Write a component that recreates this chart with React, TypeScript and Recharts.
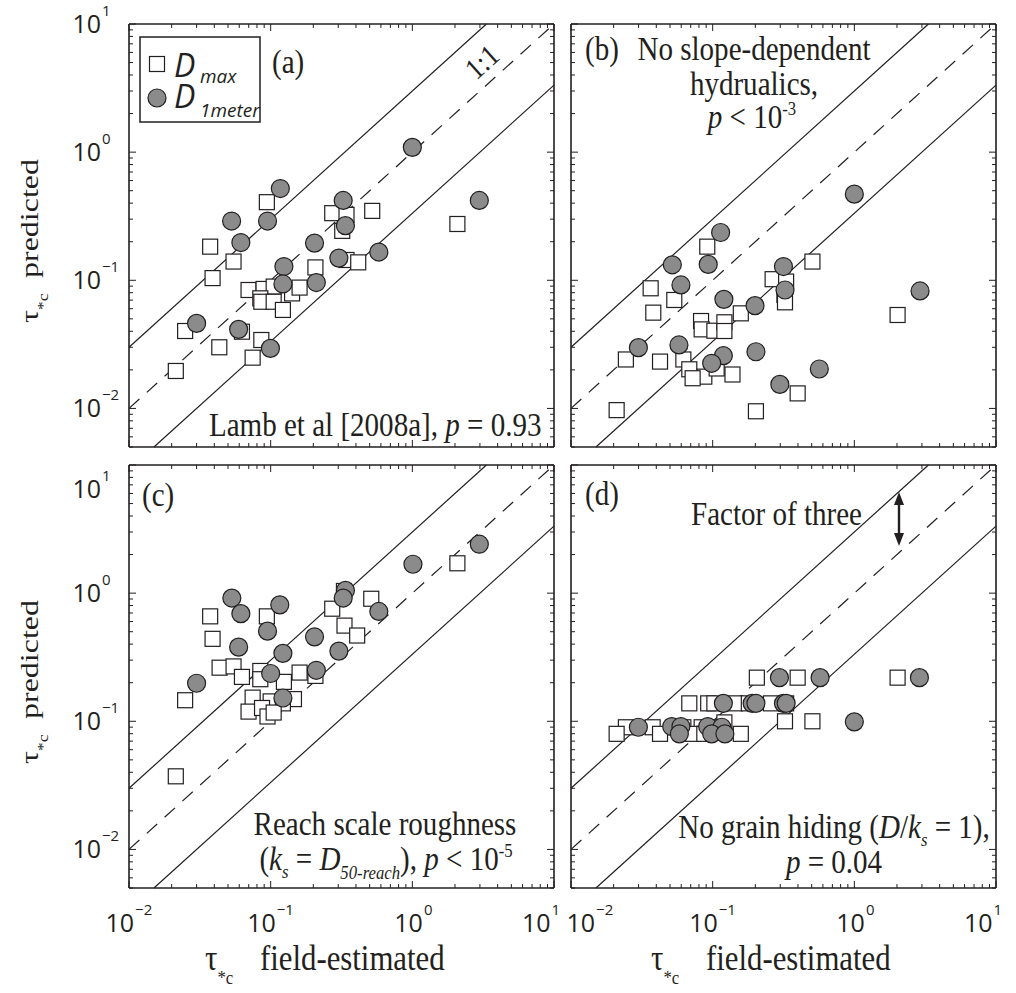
import React from "react";
import { ScatterChart, Scatter, XAxis, YAxis, ReferenceLine } from "recharts";

// axis ranges (log-log) and the "factor of three" envelope
const X_MIN = 0.01;
const X_MAX = 10;
const Y_MIN = 0.005;
const Y_MAX = 10;
const FACTOR = 3;

const majorTicks = [0.01, 0.1, 1, 10];
const tickExponents = ["\u22122", "\u22121", "0", "1"];
const minorMantissas = [2, 3, 4, 5, 6, 7, 8, 9];
const yLowMinor = [0.005, 0.006, 0.007, 0.008, 0.009];

// (a) Lamb et al [2008a]
const dmaxA = [
  { x: 2.08, y: 0.275 }, { x: 0.521, y: 0.348 }, { x: 0.094, y: 0.407 }, { x: 0.272, y: 0.334 },
  { x: 0.343, y: 0.324 }, { x: 0.32, y: 0.243 }, { x: 0.0374, y: 0.183 }, { x: 0.0547, y: 0.14 },
  { x: 0.0389, y: 0.104 }, { x: 0.207, y: 0.126 }, { x: 0.343, y: 0.144 }, { x: 0.415, y: 0.138 },
  { x: 0.0698, y: 0.084 }, { x: 0.0891, y: 0.0856 }, { x: 0.105, y: 0.0893 }, { x: 0.0845, y: 0.0723 },
  { x: 0.0859, y: 0.068 }, { x: 0.105, y: 0.068 }, { x: 0.1416, y: 0.079 }, { x: 0.16, y: 0.0877 },
  { x: 0.122, y: 0.0587 }, { x: 0.0249, y: 0.0402 }, { x: 0.0627, y: 0.0397 }, { x: 0.0434, y: 0.03 },
  { x: 0.0859, y: 0.0342 }, { x: 0.0746, y: 0.0249 }, { x: 0.0214, y: 0.0196 },
];
const d1mA = [
  { x: 1.0, y: 1.09 }, { x: 2.97, y: 0.42 }, { x: 0.117, y: 0.52 }, { x: 0.053, y: 0.29 },
  { x: 0.095, y: 0.29 }, { x: 0.0616, y: 0.197 }, { x: 0.325, y: 0.42 }, { x: 0.337, y: 0.267 },
  { x: 0.204, y: 0.195 }, { x: 0.58, y: 0.166 }, { x: 0.303, y: 0.149 }, { x: 0.124, y: 0.128 },
  { x: 0.122, y: 0.0936 }, { x: 0.21, y: 0.096 }, { x: 0.03, y: 0.0461 }, { x: 0.0594, y: 0.0414 },
  { x: 0.0996, y: 0.0294 },
];

// (b) no slope-dependent hydraulics
const dmaxB = [
  { x: 2.02, y: 0.0536 }, { x: 0.506, y: 0.14 }, { x: 0.0916, y: 0.183 }, { x: 0.265, y: 0.102 },
  { x: 0.33, y: 0.0977 }, { x: 0.321, y: 0.0768 }, { x: 0.324, y: 0.0673 }, { x: 0.0365, y: 0.0866 },
  { x: 0.0536, y: 0.0702 }, { x: 0.0381, y: 0.0559 }, { x: 0.158, y: 0.0552 }, { x: 0.0828, y: 0.0481 },
  { x: 0.0836, y: 0.0414 }, { x: 0.1028, y: 0.0404 }, { x: 0.121, y: 0.047 }, { x: 0.121, y: 0.0402 },
  { x: 0.0244, y: 0.0241 }, { x: 0.0425, y: 0.0232 }, { x: 0.0621, y: 0.0241 }, { x: 0.0684, y: 0.0202 },
  { x: 0.0873, y: 0.0177 }, { x: 0.0722, y: 0.0172 }, { x: 0.1067, y: 0.0205 }, { x: 0.138, y: 0.0184 },
  { x: 0.398, y: 0.0131 }, { x: 0.021, y: 0.0097 }, { x: 0.202, y: 0.0095 },
];
const d1mB = [
  { x: 1.0, y: 0.47 }, { x: 2.91, y: 0.0826 }, { x: 0.1138, y: 0.236 }, { x: 0.0519, y: 0.132 },
  { x: 0.093, y: 0.133 }, { x: 0.0597, y: 0.092 }, { x: 0.316, y: 0.128 }, { x: 0.324, y: 0.084 },
  { x: 0.12, y: 0.071 }, { x: 0.199, y: 0.0634 }, { x: 0.0299, y: 0.0298 }, { x: 0.0578, y: 0.0313 },
  { x: 0.119, y: 0.0258 }, { x: 0.0984, y: 0.0225 }, { x: 0.202, y: 0.0277 }, { x: 0.566, y: 0.0203 },
  { x: 0.298, y: 0.0154 },
];

// (c) reach scale roughness
const dmaxC = [
  { x: 2.08, y: 1.71 }, { x: 0.513, y: 0.904 }, { x: 0.329, y: 1.04 }, { x: 0.272, y: 0.756 },
  { x: 0.332, y: 0.558 }, { x: 0.408, y: 0.467 }, { x: 0.0374, y: 0.659 }, { x: 0.094, y: 0.659 },
  { x: 0.0389, y: 0.44 }, { x: 0.0436, y: 0.262 }, { x: 0.0547, y: 0.268 }, { x: 0.0627, y: 0.222 },
  { x: 0.0845, y: 0.247 }, { x: 0.0845, y: 0.213 }, { x: 0.124, y: 0.203 }, { x: 0.16, y: 0.24 },
  { x: 0.207, y: 0.226 }, { x: 0.0249, y: 0.146 }, { x: 0.0746, y: 0.153 }, { x: 0.1, y: 0.143 },
  { x: 0.146, y: 0.149 }, { x: 0.122, y: 0.138 }, { x: 0.0698, y: 0.119 }, { x: 0.0869, y: 0.127 },
  { x: 0.095, y: 0.109 }, { x: 0.105, y: 0.117 }, { x: 0.0214, y: 0.0372 },
];
const d1mC = [
  { x: 2.97, y: 2.41 }, { x: 1.01, y: 1.68 }, { x: 0.337, y: 1.05 }, { x: 0.325, y: 0.915 },
  { x: 0.0532, y: 0.915 }, { x: 0.0616, y: 0.692 }, { x: 0.116, y: 0.81 }, { x: 0.58, y: 0.72 },
  { x: 0.095, y: 0.505 }, { x: 0.204, y: 0.456 }, { x: 0.0594, y: 0.379 }, { x: 0.122, y: 0.339 },
  { x: 0.303, y: 0.353 }, { x: 0.1, y: 0.236 }, { x: 0.21, y: 0.25 }, { x: 0.03, y: 0.198 },
  { x: 0.122, y: 0.152 },
];

// (d) no grain hiding
const dmaxD = [
  { x: 0.205, y: 0.219 }, { x: 0.398, y: 0.219 }, { x: 2.02, y: 0.219 }, { x: 0.0684, y: 0.138 },
  { x: 0.093, y: 0.138 }, { x: 0.1028, y: 0.138 }, { x: 0.144, y: 0.138 }, { x: 0.18, y: 0.138 },
  { x: 0.258, y: 0.138 }, { x: 0.33, y: 0.138 }, { x: 0.324, y: 0.1 }, { x: 0.506, y: 0.1 },
  { x: 0.121, y: 0.098 }, { x: 0.0244, y: 0.0898 }, { x: 0.0377, y: 0.0898 }, { x: 0.0621, y: 0.0898 },
  { x: 0.0836, y: 0.0898 }, { x: 0.106, y: 0.0898 }, { x: 0.053, y: 0.0898 }, { x: 0.021, y: 0.0798 },
  { x: 0.0425, y: 0.0798 }, { x: 0.0722, y: 0.0798 }, { x: 0.0873, y: 0.0798 }, { x: 0.158, y: 0.0798 },
];
const d1mD = [
  { x: 2.88, y: 0.219 }, { x: 0.296, y: 0.219 }, { x: 0.573, y: 0.219 }, { x: 1.0, y: 0.099 },
  { x: 0.119, y: 0.138 }, { x: 0.19, y: 0.138 }, { x: 0.202, y: 0.138 }, { x: 0.316, y: 0.138 },
  { x: 0.33, y: 0.138 }, { x: 0.0299, y: 0.0898 }, { x: 0.0514, y: 0.091 }, { x: 0.0597, y: 0.091 },
  { x: 0.0582, y: 0.0798 }, { x: 0.0922, y: 0.091 }, { x: 0.116, y: 0.0898 }, { x: 0.0984, y: 0.0798 },
  { x: 0.122, y: 0.0798 },
];

const ink = "#231f20";
const grey = "#8b8b8b";
const serif = "'Liberation Serif', 'Times New Roman', serif";
const sans = "'Open Sans', 'Noto Sans', sans-serif";

const minorOf = (decades: number[]) =>
  decades.slice(0, -1).flatMap((d) => minorMantissas.map((m) => +(m * d).toPrecision(3)));
const xTicks = [...majorTicks, ...minorOf(majorTicks)];
const yTicks = [...yLowMinor, ...majorTicks, ...minorOf(majorTicks)];

const PLOT_W = 425;
const PLOT_H = 423;

const expOf = (v: number) => {
  const i = majorTicks.indexOf(v);
  return i < 0 ? null : tickExponents[i];
};

function makeXTick(showLabels: boolean, shifts: Record<string, number>) {
  return (props: any) => {
    const { x, y, payload } = props;
    const exp = expOf(payload.value);
    const len = exp ? 7 : 4;
    const supW = exp && exp.length > 1 ? 19 : 8;
    const lx = x - (28 + supW) / 2 + (exp ? shifts[exp] ?? 0 : 0);
    return (
      <g>
        <line x1={x} x2={x} y1={y} y2={y - len} stroke={ink} strokeWidth={1} />
        <line x1={x} x2={x} y1={y - PLOT_H} y2={y - PLOT_H + len} stroke={ink} strokeWidth={1} />
        {showLabels && exp && (
          <text x={lx} y={y + 44} fontFamily={sans} fontSize={25} fill={ink}>
            10
            <tspan dx={1} dy={-17} fontSize={15}>{exp}</tspan>
          </text>
        )}
      </g>
    );
  };
}

function makeYTick(showLabels: boolean, shifts: Record<string, number>) {
  return (props: any) => {
    const { x, y, payload } = props;
    const exp = expOf(payload.value);
    const len = exp ? 7 : 4;
    const dy = exp ? shifts[exp] ?? 0 : 0;
    return (
      <g>
        <line x1={x} x2={x + len} y1={y} y2={y} stroke={ink} strokeWidth={1} />
        <line x1={x + PLOT_W - len} x2={x + PLOT_W} y1={y} y2={y} stroke={ink} strokeWidth={1} />
        {showLabels && exp && (
          <g>
            <text x={x - 28} y={y + 9 + dy} textAnchor="end" fontFamily={sans} fontSize={25} fill={ink}>
              10
            </text>
            <text x={x - 27} y={y - 8 + dy} fontFamily={sans} fontSize={15} fill={ink}>
              {exp}
            </text>
          </g>
        )}
      </g>
    );
  };
}

const squareShape = (p: any) => (
  <rect x={p.cx - 7.5} y={p.cy - 7.5} width={15} height={15} fill="#fff" stroke={ink} strokeWidth={1.2} />
);
const circleShape = (p: any) => (
  <circle cx={p.cx} cy={p.cy} r={9} fill={grey} stroke={ink} strokeWidth={1.2} />
);

// y = k x, clipped to the plotting window
function diag(k: number) {
  const x1 = Math.max(X_MIN, Y_MIN / k);
  const x2 = Math.min(X_MAX, Y_MAX / k);
  return [
    { x: x1, y: x1 * k },
    { x: x2, y: x2 * k },
  ];
}

type PanelProps = {
  left: number;
  top: number;
  width: number;
  height: number;
  margin: { top: number; right: number; bottom: number; left: number };
  dmax: { x: number; y: number }[];
  d1m: { x: number; y: number }[];
  xLabels: boolean;
  yLabels: boolean;
  xShift: Record<string, number>;
  yShift: Record<string, number>;
};

function Panel(p: PanelProps) {
  return (
    <div style={{ position: "absolute", left: p.left, top: p.top }}>
      <ScatterChart width={p.width} height={p.height} margin={p.margin}>
        <XAxis
          xAxisId="x"
          type="number"
          dataKey="x"
          scale="log"
          domain={[X_MIN, X_MAX]}
          allowDataOverflow
          ticks={xTicks}
          interval={0}
          height={1}
          tickSize={0}
          tickMargin={0}
          tickLine={false}
          axisLine={{ stroke: ink, strokeWidth: 1.6 }}
          tick={makeXTick(p.xLabels, p.xShift)}
        />
        <YAxis
          yAxisId="y"
          type="number"
          dataKey="y"
          scale="log"
          domain={[Y_MIN, Y_MAX]}
          allowDataOverflow
          ticks={yTicks}
          interval={0}
          width={1}
          tickSize={0}
          tickMargin={0}
          tickLine={false}
          axisLine={{ stroke: ink, strokeWidth: 1.6 }}
          tick={makeYTick(p.yLabels, p.yShift)}
        />
        <ReferenceLine xAxisId="x" yAxisId="y" y={Y_MAX} stroke={ink} strokeWidth={1.6} />
        <ReferenceLine xAxisId="x" yAxisId="y" x={X_MAX} stroke={ink} strokeWidth={1.6} />
        <Scatter xAxisId="x" yAxisId="y" data={p.dmax} shape={squareShape} isAnimationActive={false} />
        <ReferenceLine xAxisId="x" yAxisId="y" segment={diag(FACTOR)} ifOverflow="visible" stroke={ink} strokeWidth={1.2} />
        <ReferenceLine xAxisId="x" yAxisId="y" segment={diag(1 / FACTOR)} ifOverflow="visible" stroke={ink} strokeWidth={1.2} />
        <ReferenceLine
          xAxisId="x"
          yAxisId="y"
          segment={diag(1)}
          ifOverflow="visible"
          stroke={ink}
          strokeWidth={1.2}
          strokeDasharray="14 10"
        />
        <Scatter xAxisId="x" yAxisId="y" data={p.d1m} shape={circleShape} isAnimationActive={false} />
      </ScatterChart>
    </div>
  );
}

function T(props: {
  x: number;
  y: number;
  size?: number;
  anchor?: "start" | "middle" | "end";
  rotate?: number;
  sx?: number;
  sy?: number;
  dy?: number;
  family?: string;
  children: React.ReactNode;
}) {
  const { x, y, size = 33, anchor = "start", rotate = 0, sx = 0.88, sy = 1, dy = 0, family = serif } = props;
  return (
    <text
      transform={`translate(${x},${y}) rotate(${rotate}) scale(${sx},${sy})`}
      y={dy}
      fontSize={size}
      textAnchor={anchor}
      fontFamily={family}
      fill={ink}
    >
      {props.children}
    </text>
  );
}

const it = { fontStyle: "italic" as const };

function YTitle({ top }: { top: number }) {
  return (
    <g>
      <T x={38} y={top + 323} rotate={-90} sx={1} sy={0.82} size={32}>
        τ<tspan dy={12} fontSize={18}>*c</tspan>
      </T>
      <T x={38} y={top + 278} rotate={-90} sx={1} sy={0.82} size={32}>
        predicted
      </T>
    </g>
  );
}

function XTitle({ left }: { left: number }) {
  return (
    <g>
      <T x={left} y={970} size={35}>
        τ<tspan dy={14} fontSize={19}>*c</tspan>
      </T>
      <T x={left + 55} y={970} size={35}>
        field-estimated
      </T>
    </g>
  );
}

export default function App() {
  // the 1px axis width/height is added to these margins by the chart
  const leftCol = { left: 0, width: 560, ml: 128, mr: 6 };
  const rightCol = { left: 560, width: 456, ml: 10, mr: 20 };
  const topRow = { top: 0, height: 456, mt: 24, mb: 8 };
  const botRow = { top: 456, height: 537, mt: 9, mb: 104 };
  const mk = (c: typeof leftCol, r: typeof topRow) => ({
    left: c.left,
    top: r.top,
    width: c.width,
    height: r.height,
    margin: { top: r.mt, right: c.mr, bottom: r.mb, left: c.ml },
  });

  return (
    <div style={{ position: "absolute", left: 0, top: 0, width: 1016, height: 993, background: "#fff" }}>
      <Panel {...mk(leftCol, topRow)} dmax={dmaxA} d1m={d1mA} xLabels={false} yLabels xShift={{}} yShift={{}} />
      <Panel {...mk(rightCol, topRow)} dmax={dmaxB} d1m={d1mB} xLabels={false} yLabels={false} xShift={{}} yShift={{}} />
      <Panel
        {...mk(leftCol, botRow)}
        dmax={dmaxC}
        d1m={d1mC}
        xLabels
        yLabels
        xShift={{ "1": -14 }}
        yShift={{ "1": 24 }}
      />
      <Panel
        {...mk(rightCol, botRow)}
        dmax={dmaxD}
        d1m={d1mD}
        xLabels
        yLabels={false}
        xShift={{ "\u22122": 19, "1": -14 }}
        yShift={{}}
      />

      <svg width={1016} height={993} style={{ position: "absolute", left: 0, top: 0, pointerEvents: "none" }}>
        {/* legend */}
        <rect x={140} y={37} width={120} height={85} fill="#fff" stroke={ink} strokeWidth={1.5} />
        <rect x={149.5} y={56.5} width={15} height={15} fill="#fff" stroke={ink} strokeWidth={1.2} />
        <text x={174} y={77} fontFamily={sans} fontStyle="italic" fontSize={32} fill={ink}>
          D
        </text>
        <text x={200} y={83} fontFamily={sans} fontStyle="italic" fontSize={19} fill={ink}>
          max
        </text>
        <circle cx={157} cy={98} r={9} fill={grey} stroke={ink} strokeWidth={1.2} />
        <text x={174} y={108} fontFamily={sans} fontStyle="italic" fontSize={32} fill={ink}>
          D
        </text>
        <text x={200} y={117} fontFamily={sans} fontStyle="italic" fontSize={19} fill={ink}>
          1meter
        </text>

        {/* (a) */}
        <T x={272} y={73}>(a)</T>
        <T x={482} y={62} rotate={-42} anchor="middle" size={30} dy={10}>
          1:1
        </T>
        <T x={209} y={436}>
          Lamb et al [2008a], <tspan {...it}>p</tspan> = 0.93
        </T>

        {/* (b) */}
        <T x={585} y={60}>(b)</T>
        <T x={754} y={60} anchor="middle">No slope-dependent</T>
        <T x={754} y={95} anchor="middle">hydrualics,</T>
        <T x={752} y={128} anchor="middle">
          <tspan {...it}>p</tspan> &lt; 10<tspan dy={-13} fontSize={19}>-3</tspan>
        </T>

        {/* (c) */}
        <T x={142} y={506}>(c)</T>
        <T x={385} y={835} anchor="middle">Reach scale roughness</T>
        <T x={386} y={870} anchor="middle">
          (<tspan {...it}>k</tspan>
          <tspan {...it} dy={8} fontSize={19}>s</tspan>
          <tspan dy={-8}> = </tspan>
          <tspan {...it}>D</tspan>
          <tspan {...it} dy={9} fontSize={19}>50-reach</tspan>
          <tspan dy={-9}>), </tspan>
          <tspan {...it}>p</tspan> &lt; 10<tspan dy={-13} fontSize={19}>-5</tspan>
        </T>

        {/* (d) */}
        <T x={585} y={505}>(d)</T>
        <T x={691} y={525}>Factor of three</T>
        <line x1={899} x2={899} y1={500} y2={538} stroke={ink} strokeWidth={2.4} />
        <polygon points="899,492 894,505 904,505" fill={ink} />
        <polygon points="899,546 894,533 904,533" fill={ink} />
        <T x={834} y={838} anchor="middle">
          No grain hiding (<tspan {...it}>D</tspan>/<tspan {...it}>k</tspan>
          <tspan {...it} dy={8} fontSize={19}>s</tspan>
          <tspan dy={-8}> = 1),</tspan>
        </T>
        <T x={834} y={873} anchor="middle">
          <tspan {...it}>p</tspan> = 0.04
        </T>

        {/* axis titles */}
        <YTitle top={0} />
        <YTitle top={441} />
        <XTitle left={205} />
        <XTitle left={651} />
      </svg>
    </div>
  );
}
